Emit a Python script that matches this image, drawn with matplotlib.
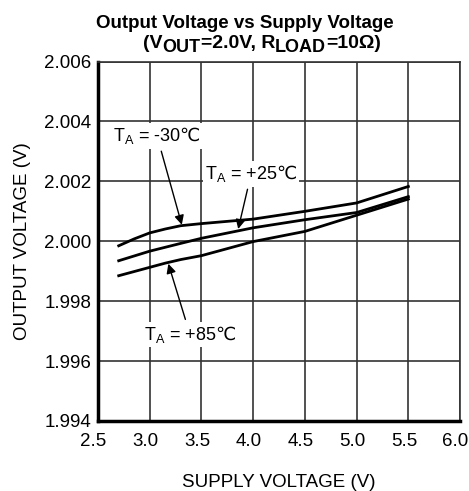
import matplotlib
matplotlib.use("Agg")
import matplotlib.pyplot as plt
from matplotlib.transforms import IdentityTransform, ScaledTranslation

plt.rcParams['font.family'] = ['Liberation Sans', 'DejaVu Sans']
plt.rcParams['mathtext.fontset'] = 'custom'
plt.rcParams['mathtext.rm'] = 'Liberation Sans'
plt.rcParams['mathtext.bf'] = 'Liberation Sans:bold'
plt.rcParams['mathtext.sf'] = 'DejaVu Sans'

# supply voltage (V)
supply_v = [2.7, 2.85, 3.0, 3.15, 3.3, 3.5, 4.0, 4.5, 5.0, 5.5]
# output voltage (V) per temperature
vout_m30 = [1.99985, 2.00008, 2.00028, 2.00041, 2.00052, 2.00059, 2.00074, 2.00100, 2.00128, 2.00183]
vout_p25 = [1.99935, 1.99951, 1.99967, 1.99980, 1.99993, 2.00010, 2.00045, 2.00072, 2.00096, 2.00149]
vout_p85 = [1.99885, 1.99899, 1.99913, 1.99927, 1.99939, 1.99952, 1.99999, 2.00033, 2.00087, 2.00141]

x_ticks = [2.5, 3.0, 3.5, 4.0, 4.5, 5.0, 5.5, 6.0]
y_ticks = [1.994, 1.996, 1.998, 2.000, 2.002, 2.004, 2.006]

W, H = 469, 491
fig = plt.figure(figsize=(W / 100, H / 100), dpi=100)
ax = fig.add_axes([0.209, 0.1426, 0.772, 0.732])

for v in (vout_m30, vout_p25, vout_p85):
    ax.plot(supply_v, v, color='black', linewidth=2, zorder=3)

ax.set_xlim(2.5, 6.0)
ax.set_ylim(1.994, 2.006)
ax.set_xticks(x_ticks)
ax.set_xticklabels([f"{t:.1f}" for t in x_ticks])
ax.set_yticks(y_ticks)
ax.set_yticklabels([f"{t:.3f}" for t in y_ticks])
ax.tick_params(length=0, labelsize=13.5)
ax.tick_params(axis='x', pad=9)
ax.tick_params(axis='y', pad=5)
# x tick labels sit a little left of their ticks in the original
shift = ScaledTranslation(-4.5 / 100, 0, fig.dpi_scale_trans)
for lab in ax.get_xticklabels():
    lab.set_transform(lab.get_transform() + shift)
ax.grid(True, color='#333333', linewidth=1.2)
ax.set_axisbelow(True)
for side in ('top', 'right'):
    ax.spines[side].set_linewidth(1.2)
    ax.spines[side].set_color('#333333')
for side in ('left', 'bottom'):
    ax.spines[side].set_linewidth(2.5)
    ax.spines[side].set_color('black')

ax.set_xlabel("SUPPLY VOLTAGE (V)", fontsize=13.5, labelpad=17)
ax.set_ylabel("OUTPUT VOLTAGE (V)", fontsize=13.5, labelpad=9)

# title, line 1
fig.text(0.5224, 1 - 28 / H, "Output Voltage vs Supply Voltage", ha='center', va='baseline',
         fontsize=13.5, fontweight='bold')

# title, line 2 built piece by piece so subscripts keep their size
renderer = fig.canvas.get_renderer()
pieces = [("(V", 14, 0), ("OUT", 13, -4), ("=2.0V, R", 14, 0), ("LOAD", 13, -4),
          ("=10Ω)", 14, 0)]
x_px = 143
base_px = H - 48
for s, size, dy in pieces:
    t = fig.text(x_px, base_px + dy, s, transform=IdentityTransform(), ha='left',
                 va='baseline', fontsize=size, fontweight='bold')
    x_px += t.get_window_extent(renderer).width

bbox = dict(boxstyle='square,pad=0.12', facecolor='white', edgecolor='none')
arrow = dict(arrowstyle='-|>', color='black', lw=1, mutation_scale=14, shrinkA=2, shrinkB=0)
ax.annotate(r"T$_{\mathrm{A}}$ = -30$\mathsf{℃}$", xy=(3.31, 2.00055), xytext=(3.07, 2.00352),
            ha='center', va='center', fontsize=13, bbox=bbox, arrowprops=arrow, zorder=5)
ax.annotate(r"T$_{\mathrm{A}}$ = +25$\mathsf{℃}$", xy=(3.855, 2.00041), xytext=(3.98, 2.00225),
            ha='center', va='center', fontsize=13, bbox=bbox, arrowprops=arrow, zorder=5)
ax.annotate(r"T$_{\mathrm{A}}$ = +85$\mathsf{℃}$", xy=(3.18, 1.99925), xytext=(3.39, 1.99688),
            ha='center', va='center', fontsize=13, bbox=bbox, arrowprops=arrow, zorder=5)

fig.savefig("out.png", dpi=100, facecolor='white')
